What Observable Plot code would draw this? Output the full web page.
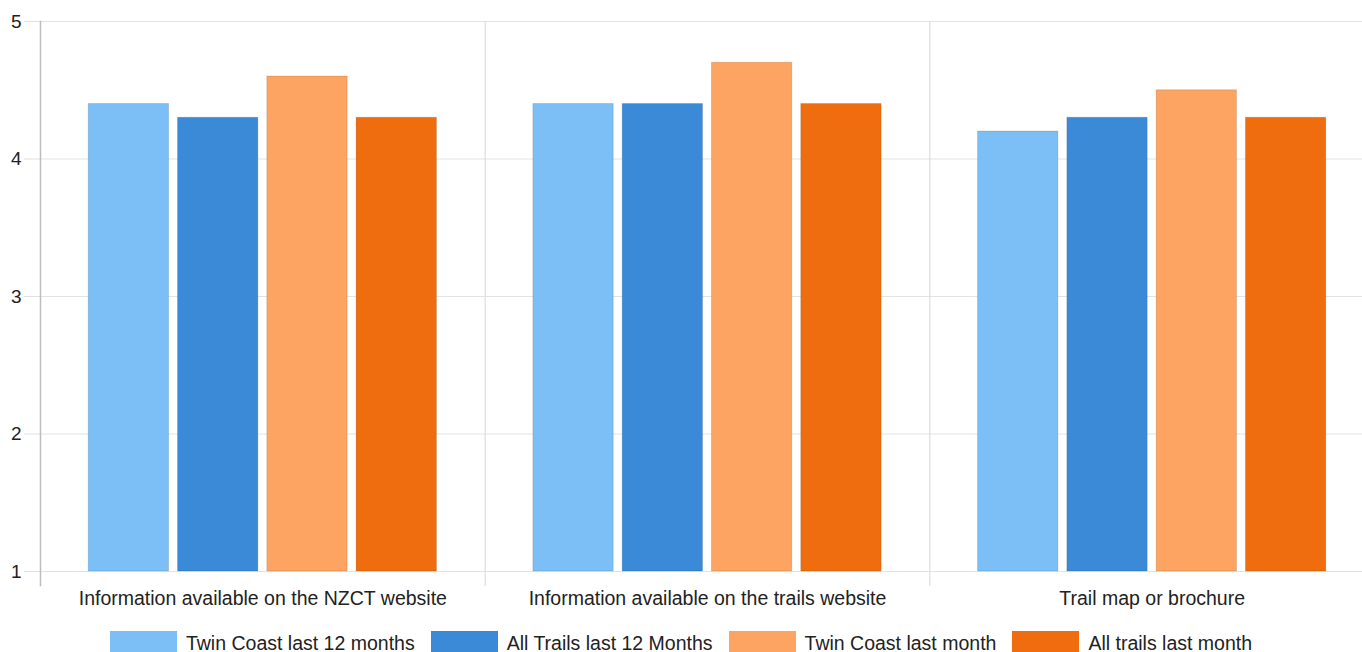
<!DOCTYPE html>
<html>
<head>
<meta charset="utf-8">
<script src="https://cdn.jsdelivr.net/npm/d3@7"></script>
<script src="https://cdn.jsdelivr.net/npm/@observablehq/plot@0.6"></script>
<style>
  html, body { margin: 0; padding: 0; background: #fff; overflow: hidden; width: 1362px; height: 652px; }
  #chart { width: 1374px; }
  #legend { width: 1362px; display: flex; justify-content: center; align-items: center; margin-top: 11px;
    font-family: "Liberation Sans", Arial, sans-serif; font-size: 19.5px; color: #222; }
  .item { display: flex; align-items: center; margin: 0 8px; }
  .sw { width: 67px; height: 24px; margin-right: 9px; }
</style>
</head>
<body>
<div id="chart"></div>
<div id="legend"></div>
<script>
const categories = [
  "Information available on the NZCT website",
  "Information available on the trails website",
  "Trail map or brochure"
];
const series = [
  "Twin Coast last 12 months",
  "All Trails last 12 Months",
  "Twin Coast last month",
  "All trails last month"
];
const colors = ["#7bbff6", "#3b8ad8", "#fea462", "#f06d0f"];
const values = [
  [4.4, 4.3, 4.6, 4.3],
  [4.4, 4.4, 4.7, 4.4],
  [4.2, 4.3, 4.5, 4.3]
];
const yTicks = [1, 2, 3, 4, 5];

const data = [];
categories.forEach((c, i) => series.forEach((s, j) => data.push({cat: c, series: s, value: values[i][j]})));

const plot = Plot.plot({
  width: 1374,
  height: 620,
  marginLeft: 40,
  marginRight: 0,
  marginTop: 21,
  marginBottom: 49,
  style: {fontFamily: '"Liberation Sans", Arial, sans-serif', fontSize: "17px", color: "#222", background: "#fff"},
  fx: {domain: categories, padding: 0, round: false, label: null},
  x: {domain: series, paddingInner: 0.1, paddingOuter: 0.54, round: false, axis: null},
  y: {domain: [1, 5], axis: null},
  color: {domain: series, range: colors},
  marks: [
    Plot.gridY(yTicks, {stroke: "#e3e3e3", strokeOpacity: 1}),
    Plot.frame({anchor: "left", stroke: "#d6d6d6", insetBottom: -14}),
    Plot.axisY(yTicks, {tickSize: 16, tickPadding: 3, stroke: "#e0e0e0", strokeOpacity: 1, color: "#222", fontSize: 19, tickFormat: d3.format("d"), label: null}),
    Plot.frame({anchor: "left", facetAnchor: "left", stroke: "#bdbdbd", strokeWidth: 1.5, insetBottom: -14}),
    Plot.axisFx({anchor: "bottom", tickSize: 0, tickPadding: 20, fontSize: 19.5, color: "#222", label: null}),
    Plot.barY(data, {fx: "cat", x: "series", y1: 1, y2: "value", fill: "series", stroke: "#000", strokeOpacity: 0.12, strokeWidth: 1})
  ]
});
document.getElementById("chart").appendChild(plot);

const legend = document.getElementById("legend");
series.forEach((s, i) => {
  const it = document.createElement("div");
  it.className = "item";
  const sw = document.createElement("div");
  sw.className = "sw";
  sw.style.background = colors[i];
  const t = document.createElement("span");
  t.textContent = s;
  it.appendChild(sw); it.appendChild(t);
  legend.appendChild(it);
});
</script>
</body>
</html>
